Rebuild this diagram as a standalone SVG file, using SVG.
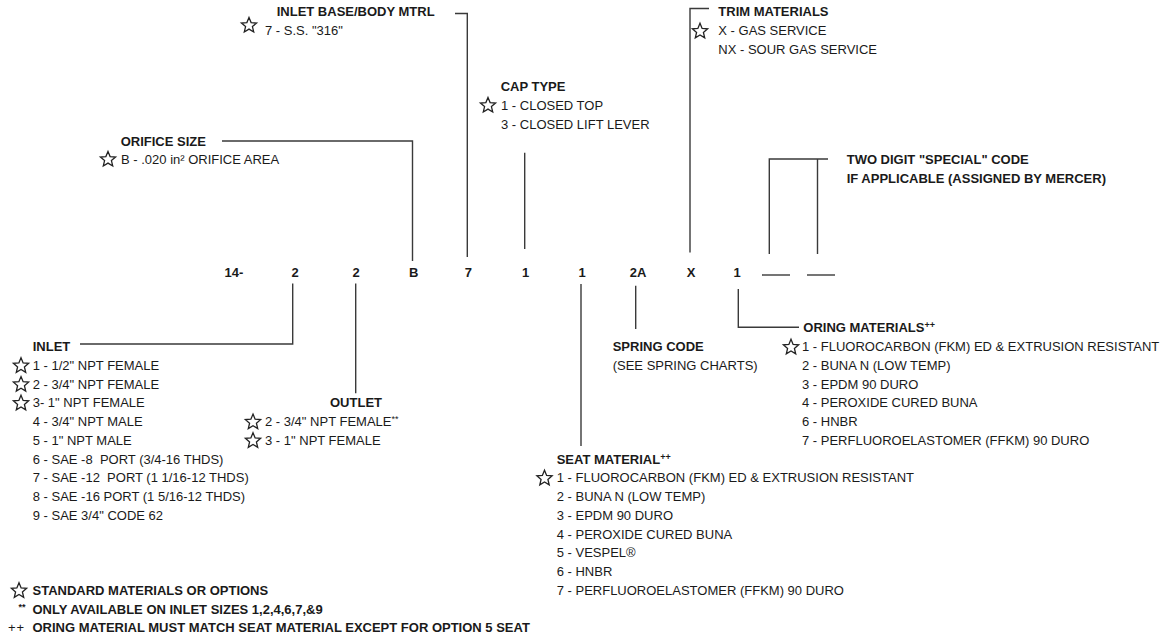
<svg xmlns="http://www.w3.org/2000/svg" width="1168" height="637" viewBox="0 0 1168 637">
<style>
text{font-family:"Liberation Sans",Arial,sans-serif;font-size:13px;fill:#1a1a1a}
.h{font-weight:bold}
.c{font-weight:bold;text-anchor:middle}
.sup{font-size:9px}
.pre{white-space:pre}
.ln{fill:none;stroke:#3a3a3a;stroke-width:1.4}
.st{fill:none;stroke:#222;stroke-width:1.3;stroke-linejoin:miter}
</style>
<defs>
<symbol id="star" overflow="visible">
<polygon class="st" points="0,-8 2.12,-2.91 7.61,-2.47 3.42,1.11 4.7,6.47 0,3.6 -4.7,6.47 -3.42,1.11 -7.61,-2.47 -2.12,-2.91"/>
</symbol>
</defs>
<rect width="1168" height="637" fill="#fff"/>

<g id="connectors" class="ln">
<path d="M222,141 H412.5 V261"/>
<path d="M455,13.5 H467.3 V257"/>
<path d="M524.7,152.7 V249"/>
<path d="M709,8.5 H690 V252.5"/>
<path d="M828,159 H769.3 V254"/>
<path d="M817.5,159 V254"/>
<path d="M762,275 H790"/>
<path d="M807,275 H835"/>
<path d="M292.7,283.5 V344 H80"/>
<path d="M355.7,283.5 V393.3"/>
<path d="M581,284 V446"/>
<path d="M635.7,285.7 V329"/>
<path d="M738.3,289 V327.3 H799"/>
</g>

<g id="code">
<text class="c" x="234" y="277">14-</text>
<text class="c" x="295" y="277">2</text>
<text class="c" x="356" y="277">2</text>
<text class="c" x="413.7" y="277">B</text>
<text class="c" x="468.3" y="277">7</text>
<text class="c" x="525.5" y="277">1</text>
<text class="c" x="582" y="277">1</text>
<text class="c" x="638" y="277">2A</text>
<text class="c" x="691" y="277">X</text>
<text class="c" x="737" y="277">1</text>
</g>

<g id="inlet-base">
<text class="h" x="276.7" y="16">INLET BASE/BODY MTRL</text>
<use href="#star" x="249" y="25.5"/>
<text x="265" y="35">7 - S.S. "316"</text>
</g>

<g id="orifice-size">
<text class="h" x="120.7" y="145.5">ORIFICE SIZE</text>
<use href="#star" x="108" y="159.5"/>
<text x="121" y="163.5">B - .020 in² ORIFICE AREA</text>
</g>

<g id="cap-type">
<text class="h" x="500.7" y="91">CAP TYPE</text>
<use href="#star" x="488" y="105.5"/>
<text x="501" y="109.75">1 - CLOSED TOP</text>
<text x="501" y="128.5">3 - CLOSED LIFT LEVER</text>
</g>

<g id="trim-materials">
<text class="h" x="718.3" y="16">TRIM MATERIALS</text>
<use href="#star" x="700" y="31.3"/>
<text x="718.3" y="35">X - GAS SERVICE</text>
<text x="718.3" y="53.5">NX - SOUR GAS SERVICE</text>
</g>

<g id="special-code">
<text class="h" x="846.7" y="163.5">TWO DIGIT "SPECIAL" CODE</text>
<text class="h" x="846.7" y="183">IF APPLICABLE (ASSIGNED BY MERCER)</text>
</g>

<g id="inlet">
<text class="h" x="32.7" y="350.7">INLET</text>
<use href="#star" x="21" y="365.8"/>
<use href="#star" x="21" y="384.6"/>
<use href="#star" x="21" y="403.3"/>
<text x="32.7" y="369.75">1 - 1/2" NPT FEMALE</text>
<text x="32.7" y="388.5">2 - 3/4" NPT FEMALE</text>
<text x="32.7" y="407.25">3- 1" NPT FEMALE</text>
<text x="32.7" y="426">4 - 3/4" NPT MALE</text>
<text x="32.7" y="444.75">5 - 1" NPT MALE</text>
<text class="pre" x="32.7" y="463.5">6 - SAE -8  PORT (3/4-16 THDS)</text>
<text class="pre" x="32.7" y="482.25">7 - SAE -12  PORT (1 1/16-12 THDS)</text>
<text x="32.7" y="501">8 - SAE -16 PORT (1 5/16-12 THDS)</text>
<text x="32.7" y="519.75">9 - SAE 3/4" CODE 62</text>
</g>

<g id="outlet">
<text class="h" x="330" y="407.25">OUTLET</text>
<use href="#star" x="253" y="422.1"/>
<use href="#star" x="253" y="440.8"/>
<text x="265" y="426">2 - 3/4" NPT FEMALE<tspan class="sup" dy="-4">**</tspan></text>
<text x="265" y="444.75">3 - 1" NPT FEMALE</text>
</g>

<g id="spring-code">
<text class="h" x="612.7" y="351">SPRING CODE</text>
<text x="612.7" y="369.75">(SEE SPRING CHARTS)</text>
</g>

<g id="oring-materials">
<text class="h" x="803.3" y="332.25">ORING MATERIALS<tspan class="sup" dy="-4">++</tspan></text>
<use href="#star" x="791" y="347.3"/>
<text x="802" y="351">1 - FLUOROCARBON (FKM) ED &amp; EXTRUSION RESISTANT</text>
<text x="802" y="369.75">2 - BUNA N (LOW TEMP)</text>
<text x="802" y="388.5">3 - EPDM 90 DURO</text>
<text x="802" y="407.25">4 - PEROXIDE CURED BUNA</text>
<text x="802" y="426">6 - HNBR</text>
<text x="802" y="444.75">7 - PERFLUOROELASTOMER (FFKM) 90 DURO</text>
</g>

<g id="seat-material">
<text class="h" x="556.7" y="463.5">SEAT MATERIAL<tspan class="sup" dy="-4">++</tspan></text>
<use href="#star" x="544.5" y="478.3"/>
<text x="556.7" y="482.25">1 - FLUOROCARBON (FKM) ED &amp; EXTRUSION RESISTANT</text>
<text x="556.7" y="501">2 - BUNA N (LOW TEMP)</text>
<text x="556.7" y="519.75">3 - EPDM 90 DURO</text>
<text x="556.7" y="538.5">4 - PEROXIDE CURED BUNA</text>
<text x="556.7" y="557.25">5 - VESPEL®</text>
<text x="556.7" y="576">6 - HNBR</text>
<text x="556.7" y="594.75">7 - PERFLUOROELASTOMER (FFKM) 90 DURO</text>
</g>

<g id="legend">
<use href="#star" x="19" y="590.8"/>
<text class="h" x="32.5" y="594.75">STANDARD MATERIALS OR OPTIONS</text>
<text class="h sup" x="18.5" y="610">**</text>
<text x="8" y="632.25" letter-spacing="1">++</text>
<text class="h" x="32.5" y="613.5">ONLY AVAILABLE ON INLET SIZES 1,2,4,6,7,&amp;9</text>
<text class="h" x="32.5" y="632.25">ORING MATERIAL MUST MATCH SEAT MATERIAL EXCEPT FOR OPTION 5 SEAT</text>
</g>
</svg>
